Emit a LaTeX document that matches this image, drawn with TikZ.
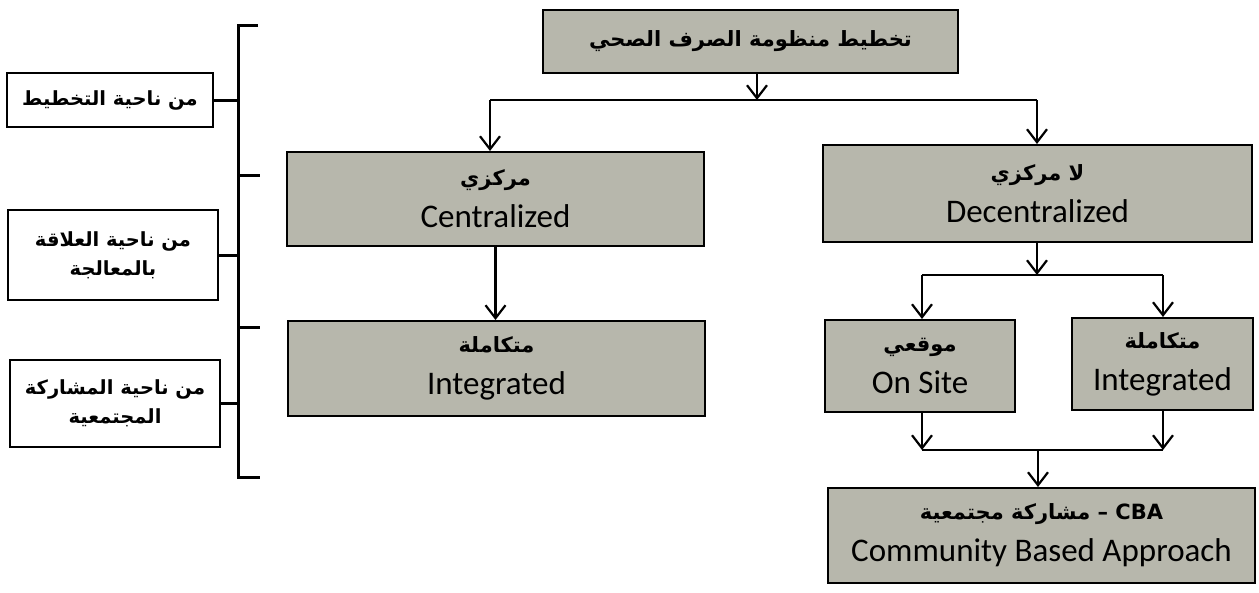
\documentclass[tikz,border=0pt]{standalone}
\usepackage{fontspec}
\setmainfont{Carlito}
\newfontfamily\arabicfont[Script=Arabic]{DejaVu Sans}
\TeXXeTstate=1
\usetikzlibrary{arrows.meta}
\definecolor{boxgray}{RGB}{183,183,172}
\newcommand{\ar}[1]{{\arabicfont\bfseries\beginR #1\endR}}
\newcommand{\arl}[1]{{\fontsize{21}{26}\selectfont\ar{#1}}}
\begin{document}
\begin{tikzpicture}[x=1pt,y=-1pt,
  graybox/.style={draw=black,line width=2pt,fill=boxgray,inner sep=0pt,align=center,font=\fontsize{33}{38}\selectfont},
  sidebox/.style={draw=black,line width=1.6pt,fill=white,inner sep=0pt,align=center,font=\fontsize{19.5}{29}\selectfont},
  conn/.style={line width=2.4pt},
  arr/.style={line width=2.4pt,-{Straight Barb[length=13pt,width=20pt,line width=2.2pt]}},
  brk/.style={line width=3pt}]
\useasboundingbox (0,0) rectangle (1259,592);
% main boxes
\node[graybox,minimum width=415pt,minimum height=63pt] (top) at (750.5,41.5) {\arl{تخطيط منظومة الصرف الصحي}};
\node[graybox,minimum width=417pt,minimum height=94pt] (cen) at (495.5,199) {\arl{مركزي}\\[4pt] Centralized};
\node[graybox,minimum width=417pt,minimum height=95pt] (intL) at (496.5,368.5) {\arl{متكاملة}\\[4pt] Integrated};
\node[graybox,minimum width=429pt,minimum height=97pt] (dec) at (1037.5,193.5) {\arl{لا مركزي}\\[4pt] Decentralized};
\node[graybox,minimum width=190pt,minimum height=92pt] (onsite) at (920,366) {\arl{موقعي}\\[4pt] On Site};
\node[graybox,minimum width=181pt,minimum height=92pt] (intR) at (1162.5,364) {\arl{متكاملة}\\[4pt] Integrated};
\node[graybox,minimum width=427pt,minimum height=95pt] (cba) at (1041.5,535.5) {\arl{\beginL CBA\endL{} – مشاركة مجتمعية}\\[4pt] Community Based Approach};
% side boxes
\node[sidebox,minimum width=206pt,minimum height=54pt] (L1) at (110,100) {\ar{من ناحية التخطيط}};
\node[sidebox,minimum width=210pt,minimum height=90pt] (L2) at (113,255) {\ar{من ناحية العلاقة}\\\ar{بالمعالجة}};
\node[sidebox,minimum width=210pt,minimum height=87pt] (L3) at (115,403.5) {\ar{من ناحية المشاركة}\\\ar{المجتمعية}};
% junction coordinates
\coordinate (j1) at (757,100);
\coordinate (j1l) at (490,100);
\coordinate (j1r) at (1037,100);
\coordinate (j2) at (1037,275);
\coordinate (j2l) at (922,275);
\coordinate (j2r) at (1163,275);
\coordinate (j3l) at (922,450);
\coordinate (j3r) at (1163,450);
\coordinate (j3) at (1038,450);
% connectors
\draw[arr] (top.south -| j1) -- (j1);
\draw[conn] (j1l) -- (j1r);
\draw[arr] (j1l) -- (cen.north -| j1l);
\draw[arr] (j1r) -- (dec.north -| j1r);
\draw[arr] (cen.south) -- (intL.north -| cen.south);
\draw[arr] (dec.south -| j2) -- (j2);
\draw[conn] (j2l) -- (j2r);
\draw[arr] (j2l) -- (onsite.north -| j2l);
\draw[arr] (j2r) -- (intR.north -| j2r);
\draw[arr] (onsite.south -| j3l) -- (j3l);
\draw[arr] (intR.south -| j3r) -- (j3r);
\draw[conn] (j3l) -- (j3r);
\draw[arr] (j3) -- (cba.north -| j3);
% bracket
\coordinate (bt) at (238,25);
\coordinate (bb) at (238,477);
\draw[brk] (258,25) -- (bt) -- (bb) -- (260,477);
\draw[brk] (238,175) -- (260,175);
\draw[brk] (238,327) -- (260,327);
\draw[brk] (L1.east) -- (L1.east -| bt);
\draw[brk] (L2.east) -- (L2.east -| bt);
\draw[brk] (L3.east) -- (L3.east -| bt);
\end{tikzpicture}
\end{document}
